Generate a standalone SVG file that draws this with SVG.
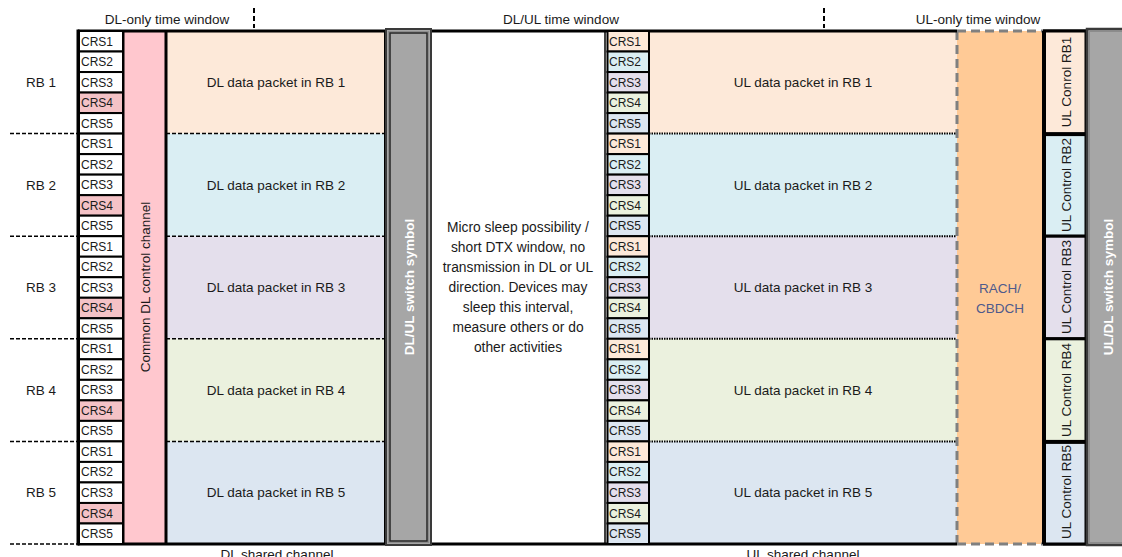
<svg xmlns="http://www.w3.org/2000/svg" width="1122" height="557" viewBox="0 0 1122 557">
<style>
text{font-family:"Liberation Sans",Arial,sans-serif;fill:#1a1a1a;font-size:13.5px}
.crs{font-size:12px}
.c{text-anchor:middle}
.rot{text-anchor:middle;dominant-baseline:central}
.sw{fill:#fff;font-weight:bold}
.cell{stroke:#000;stroke-width:2}
.ucell{stroke:#000;stroke-width:3}
.dash{stroke:#000;stroke-width:1.5;stroke-dasharray:4 2;fill:none}
.dot{stroke:#000;stroke-width:2;stroke-dasharray:1.5 1;fill:none}
.rb1{fill:#FDE9D9}.rb2{fill:#DAEEF3}.rb3{fill:#E4DFEC}.rb4{fill:#EBF1DE}.rb5{fill:#DCE6F1}
.wh{fill:#fff}.pk{fill:#F4C2C6}
</style>
<rect width="1122" height="557" fill="#fff"/>
<g id="labels">
<text class="c" x="167" y="24">DL-only time window</text>
<text class="c" x="561" y="24">DL/UL time window</text>
<text class="c" x="978" y="24">UL-only time window</text>
<text class="c" x="277" y="559">DL shared channel</text>
<text class="c" x="803" y="559">UL shared channel</text>
<text class="c" x="41" y="87">RB 1</text>
<text class="c" x="41" y="190">RB 2</text>
<text class="c" x="41" y="292">RB 3</text>
<text class="c" x="41" y="395">RB 4</text>
<text class="c" x="41" y="497">RB 5</text>
</g>
<g id="dl-data">
<rect class="rb1" x="166" y="31" width="219" height="102.6"/>
<rect class="rb2" x="166" y="133.6" width="219" height="102.6"/>
<rect class="rb3" x="166" y="236.2" width="219" height="102.6"/>
<rect class="rb4" x="166" y="338.8" width="219" height="102.6"/>
<rect class="rb5" x="166" y="441.4" width="219" height="102.6"/>
<text class="c" x="276" y="87">DL data packet in RB 1</text>
<text class="c" x="276" y="190">DL data packet in RB 2</text>
<text class="c" x="276" y="292">DL data packet in RB 3</text>
<text class="c" x="276" y="395">DL data packet in RB 4</text>
<text class="c" x="276" y="497">DL data packet in RB 5</text>
</g>
<g id="common-dl-control">
<rect x="123" y="31" width="43" height="513" fill="#FFC7CE"/>
<text class="rot" transform="translate(145,287) rotate(-90)">Common DL control channel</text>
</g>
<g id="ul-data">
<rect class="rb1" x="649" y="31" width="308" height="102.6"/>
<rect class="rb2" x="649" y="133.6" width="308" height="102.6"/>
<rect class="rb3" x="649" y="236.2" width="308" height="102.6"/>
<rect class="rb4" x="649" y="338.8" width="308" height="102.6"/>
<rect class="rb5" x="649" y="441.4" width="308" height="102.6"/>
<text class="c" x="803" y="87">UL data packet  in RB 1</text>
<text class="c" x="803" y="190">UL  data packet in RB 2</text>
<text class="c" x="803" y="292">UL data packet in RB 3</text>
<text class="c" x="803" y="395">UL data packet in RB 4</text>
<text class="c" x="803" y="497">UL data packet in RB 5</text>
</g>
<g id="rach">
<rect x="957" y="31" width="86" height="513" fill="#FFCA96"/>
<path d="M957,31 V544 M957,31 H1043 M957,544 H1043" stroke="#808080" stroke-width="3" stroke-dasharray="9 5" fill="none"/>
<text class="c" x="1000" y="293" style="fill:#4E5A8C">RACH/</text>
<text class="c" x="1000" y="313" style="fill:#4E5A8C">CBDCH</text>
</g>
<g id="micro-sleep">
<rect x="432" y="31" width="172" height="513" fill="#fff"/>
<text class="c" x="518" y="232" style="font-size:13.8px">Micro sleep possibility /</text>
<text class="c" x="518" y="252" style="font-size:13.8px">short DTX window, no</text>
<text class="c" x="518" y="272" style="font-size:13.8px">transmission in DL or UL</text>
<text class="c" x="518" y="292" style="font-size:13.8px">direction. Devices may</text>
<text class="c" x="518" y="312" style="font-size:13.8px">sleep this interval,</text>
<text class="c" x="518" y="332" style="font-size:13.8px">measure others or do</text>
<text class="c" x="518" y="352" style="font-size:13.8px">other activities</text>
</g>
<g id="connectors">
<path class="dash" d="M10,133.6H78 M10,236.2H78 M10,338.8H78 M10,441.4H78 M10,544H78"/>
<path class="dash" d="M166,133.6H384 M166,236.2H384 M166,338.8H384 M166,441.4H384"/>
<path class="dot" d="M649,133.6H956 M649,236.2H956 M649,338.8H956 M649,441.4H956"/>
<path d="M254,8V28 M824,8V28" stroke="#000" stroke-width="2" stroke-dasharray="5 3"/>
<path d="M78,31H386 M432,31H957 M78,544H386 M432,544H957 M1043,31H1086 M1043,544H1086" stroke="#000" stroke-width="3"/>
<path d="M78,29.5V545.5 M166,31V544 M123,31V544" stroke="#000" stroke-width="3"/>
<path d="M385,31V544" stroke="#000" stroke-width="2"/>
<path d="M605,31V544" stroke="#000" stroke-width="1.5"/>
<path d="M649,31V544" stroke="#000" stroke-width="2"/>
</g>
<g id="dl-crs">
<rect class="cell wh" x="79" y="31" width="44" height="20.52"/><text class="crs" x="81" y="45.5">CRS1</text>
<rect class="cell wh" x="79" y="51.52" width="44" height="20.52"/><text class="crs" x="81" y="66">CRS2</text>
<rect class="cell wh" x="79" y="72.04" width="44" height="20.52"/><text class="crs" x="81" y="86.5">CRS3</text>
<rect class="cell pk" x="79" y="92.56" width="44" height="20.52"/><text class="crs" x="81" y="107">CRS4</text>
<rect class="cell wh" x="79" y="113.08" width="44" height="20.52"/><text class="crs" x="81" y="127.6">CRS5</text>
<rect class="cell wh" x="79" y="133.6" width="44" height="20.52"/><text class="crs" x="81" y="148.1">CRS1</text>
<rect class="cell wh" x="79" y="154.12" width="44" height="20.52"/><text class="crs" x="81" y="168.6">CRS2</text>
<rect class="cell wh" x="79" y="174.64" width="44" height="20.52"/><text class="crs" x="81" y="189.1">CRS3</text>
<rect class="cell pk" x="79" y="195.16" width="44" height="20.52"/><text class="crs" x="81" y="209.7">CRS4</text>
<rect class="cell wh" x="79" y="215.68" width="44" height="20.52"/><text class="crs" x="81" y="230.2">CRS5</text>
<rect class="cell wh" x="79" y="236.2" width="44" height="20.52"/><text class="crs" x="81" y="250.7">CRS1</text>
<rect class="cell wh" x="79" y="256.72" width="44" height="20.52"/><text class="crs" x="81" y="271.2">CRS2</text>
<rect class="cell wh" x="79" y="277.24" width="44" height="20.52"/><text class="crs" x="81" y="291.7">CRS3</text>
<rect class="cell pk" x="79" y="297.76" width="44" height="20.52"/><text class="crs" x="81" y="312.3">CRS4</text>
<rect class="cell wh" x="79" y="318.28" width="44" height="20.52"/><text class="crs" x="81" y="332.8">CRS5</text>
<rect class="cell wh" x="79" y="338.8" width="44" height="20.52"/><text class="crs" x="81" y="353.3">CRS1</text>
<rect class="cell wh" x="79" y="359.32" width="44" height="20.52"/><text class="crs" x="81" y="373.8">CRS2</text>
<rect class="cell wh" x="79" y="379.84" width="44" height="20.52"/><text class="crs" x="81" y="394.3">CRS3</text>
<rect class="cell pk" x="79" y="400.36" width="44" height="20.52"/><text class="crs" x="81" y="414.9">CRS4</text>
<rect class="cell wh" x="79" y="420.88" width="44" height="20.52"/><text class="crs" x="81" y="435.4">CRS5</text>
<rect class="cell wh" x="79" y="441.4" width="44" height="20.52"/><text class="crs" x="81" y="455.9">CRS1</text>
<rect class="cell wh" x="79" y="461.92" width="44" height="20.52"/><text class="crs" x="81" y="476.4">CRS2</text>
<rect class="cell wh" x="79" y="482.44" width="44" height="20.52"/><text class="crs" x="81" y="496.9">CRS3</text>
<rect class="cell pk" x="79" y="502.96" width="44" height="20.52"/><text class="crs" x="81" y="517.5">CRS4</text>
<rect class="cell wh" x="79" y="523.48" width="44" height="20.52"/><text class="crs" x="81" y="538">CRS5</text>
</g>
<g id="ul-crs">
<rect class="cell rb1" x="607.5" y="31" width="41.5" height="20.52"/><text class="crs" x="609" y="45.5">CRS1</text>
<rect class="cell rb2" x="607.5" y="51.52" width="41.5" height="20.52"/><text class="crs" x="609" y="66">CRS2</text>
<rect class="cell rb3" x="607.5" y="72.04" width="41.5" height="20.52"/><text class="crs" x="609" y="86.5">CRS3</text>
<rect class="cell rb4" x="607.5" y="92.56" width="41.5" height="20.52"/><text class="crs" x="609" y="107">CRS4</text>
<rect class="cell rb5" x="607.5" y="113.08" width="41.5" height="20.52"/><text class="crs" x="609" y="127.6">CRS5</text>
<rect class="cell rb1" x="607.5" y="133.6" width="41.5" height="20.52"/><text class="crs" x="609" y="148.1">CRS1</text>
<rect class="cell rb2" x="607.5" y="154.12" width="41.5" height="20.52"/><text class="crs" x="609" y="168.6">CRS2</text>
<rect class="cell rb3" x="607.5" y="174.64" width="41.5" height="20.52"/><text class="crs" x="609" y="189.1">CRS3</text>
<rect class="cell rb4" x="607.5" y="195.16" width="41.5" height="20.52"/><text class="crs" x="609" y="209.7">CRS4</text>
<rect class="cell rb5" x="607.5" y="215.68" width="41.5" height="20.52"/><text class="crs" x="609" y="230.2">CRS5</text>
<rect class="cell rb1" x="607.5" y="236.2" width="41.5" height="20.52"/><text class="crs" x="609" y="250.7">CRS1</text>
<rect class="cell rb2" x="607.5" y="256.72" width="41.5" height="20.52"/><text class="crs" x="609" y="271.2">CRS2</text>
<rect class="cell rb3" x="607.5" y="277.24" width="41.5" height="20.52"/><text class="crs" x="609" y="291.7">CRS3</text>
<rect class="cell rb4" x="607.5" y="297.76" width="41.5" height="20.52"/><text class="crs" x="609" y="312.3">CRS4</text>
<rect class="cell rb5" x="607.5" y="318.28" width="41.5" height="20.52"/><text class="crs" x="609" y="332.8">CRS5</text>
<rect class="cell rb1" x="607.5" y="338.8" width="41.5" height="20.52"/><text class="crs" x="609" y="353.3">CRS1</text>
<rect class="cell rb2" x="607.5" y="359.32" width="41.5" height="20.52"/><text class="crs" x="609" y="373.8">CRS2</text>
<rect class="cell rb3" x="607.5" y="379.84" width="41.5" height="20.52"/><text class="crs" x="609" y="394.3">CRS3</text>
<rect class="cell rb4" x="607.5" y="400.36" width="41.5" height="20.52"/><text class="crs" x="609" y="414.9">CRS4</text>
<rect class="cell rb5" x="607.5" y="420.88" width="41.5" height="20.52"/><text class="crs" x="609" y="435.4">CRS5</text>
<rect class="cell rb1" x="607.5" y="441.4" width="41.5" height="20.52"/><text class="crs" x="609" y="455.9">CRS1</text>
<rect class="cell rb2" x="607.5" y="461.92" width="41.5" height="20.52"/><text class="crs" x="609" y="476.4">CRS2</text>
<rect class="cell rb3" x="607.5" y="482.44" width="41.5" height="20.52"/><text class="crs" x="609" y="496.9">CRS3</text>
<rect class="cell rb4" x="607.5" y="502.96" width="41.5" height="20.52"/><text class="crs" x="609" y="517.5">CRS4</text>
<rect class="cell rb5" x="607.5" y="523.48" width="41.5" height="20.52"/><text class="crs" x="609" y="538">CRS5</text>
</g>
<g id="ul-control">
<rect class="ucell rb1" x="1044.5" y="31" width="41.5" height="102.6"/>
<rect class="ucell rb2" x="1044.5" y="134.6" width="41.5" height="101.6"/>
<rect class="ucell rb3" x="1044.5" y="236.2" width="41.5" height="102.6"/>
<rect class="ucell rb4" x="1044.5" y="338.8" width="41.5" height="102.6"/>
<rect class="ucell rb5" x="1044.5" y="442.4" width="41.5" height="101.6"/>
<path d="M1044,31V544" stroke="#000" stroke-width="4"/>
<text class="rot" transform="translate(1066,82) rotate(-90)">UL Conrol RB1</text>
<text class="rot" transform="translate(1066,185) rotate(-90)">UL Control RB2</text>
<text class="rot" transform="translate(1066,287) rotate(-90)">UL Control RB3</text>
<text class="rot" transform="translate(1066,390) rotate(-90)">UL Control RB4</text>
<text class="rot" transform="translate(1066,492) rotate(-90)">UL Control RB5</text>
</g>
<g id="dl-ul-switch">
<rect x="386" y="29" width="45" height="516" fill="#A6A6A6" stroke="#3A3A3A" stroke-width="2"/>
<rect x="388.5" y="31.5" width="40" height="511" fill="none" stroke="#8C8C8C" stroke-width="1"/>
<rect x="390" y="33" width="37" height="508" fill="none" stroke="#262626" stroke-width="1.5"/>
<text class="rot sw" transform="translate(409,287) rotate(-90)">DL/UL switch symbol</text>
</g>
<g id="ul-dl-switch">
<rect x="1087" y="29" width="40" height="516" fill="#A6A6A6" stroke="#3A3A3A" stroke-width="2.5"/>
<rect x="1089.5" y="31.5" width="40" height="511" fill="none" stroke="#8C8C8C" stroke-width="1"/>
<text class="rot sw" transform="translate(1108,287) rotate(-90)">UL/DL switch symbol</text>
</g>
</svg>
